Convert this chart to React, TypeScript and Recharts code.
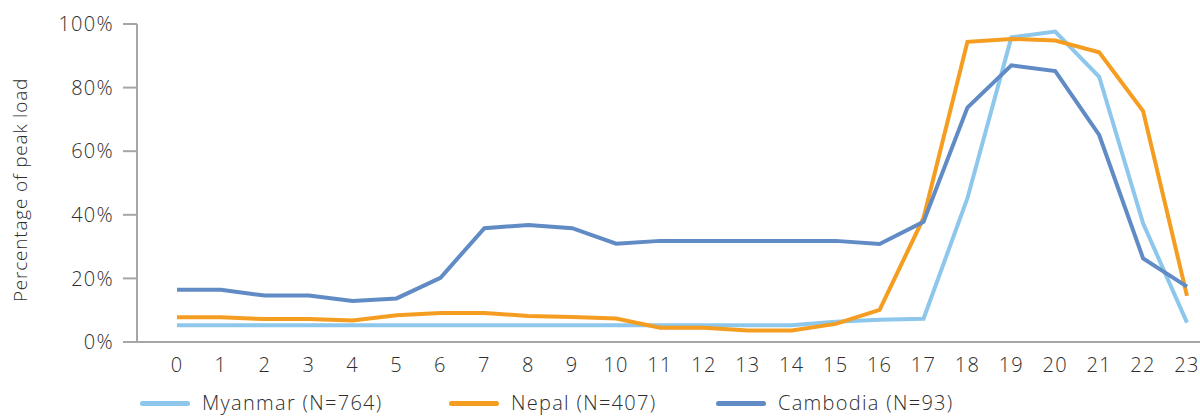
import React from 'react';
import { LineChart, Line, XAxis, YAxis, Legend, Label } from 'recharts';

const hours = ['0', '1', '2', '3', '4', '5', '6', '7', '8', '9', '10', '11', '12', '13', '14', '15', '16', '17', '18', '19', '20', '21', '22', '23'];
const myanmar = [5.3, 5.3, 5.3, 5.3, 5.3, 5.3, 5.3, 5.3, 5.3, 5.3, 5.3, 5.3, 5.3, 5.3, 5.3, 6.4, 7.0, 7.3, 45.2, 95.8, 97.6, 83.4, 37.3, 6.1];
const nepal = [7.8, 7.8, 7.2, 7.2, 6.8, 8.4, 9.1, 9.1, 8.2, 7.9, 7.4, 4.5, 4.5, 3.6, 3.6, 5.7, 10.1, 39, 94.4, 95.3, 94.8, 91.1, 72.6, 14.5];
const cambodia = [16.4, 16.4, 14.6, 14.6, 12.9, 13.7, 20.2, 35.8, 36.8, 35.8, 30.9, 31.8, 31.8, 31.8, 31.8, 31.8, 30.8, 37.8, 73.7, 87.0, 85.2, 65.1, 26.3, 17.4];
const yTicks = [0, 20, 40, 60, 80, 100];

const series = [
    { key: 'myanmar', name: 'Myanmar (N=764)', color: '#8ec7ec' },
    { key: 'nepal', name: 'Nepal (N=407)', color: '#f59d21' },
    { key: 'cambodia', name: 'Cambodia (N=93)', color: '#618bc4' },
];

const data = hours.map((h, i) => ({
    hour: h,
    myanmar: myanmar[i],
    nepal: nepal[i],
    cambodia: cambodia[i],
}));

const FONT = '"Open Sans", Lato, sans-serif';
const TEXT = '#2e2e2e';
const AXIS = '#a6a6a6';

const legendLeft = [140, 449, 716];

const renderLegend = () => (
    <div style={{ position: 'relative', width: 1200, height: 32 }}>
        {series.map((s, i) => (
            <div
                key={s.key}
                style={{
                    position: 'absolute',
                    left: legendLeft[i],
                    top: 6,
                    height: 20,
                    display: 'flex',
                    alignItems: 'center',
                    whiteSpace: 'nowrap',
                }}
            >
                <div style={{ width: 50, height: 5, borderRadius: 3, background: s.color }} />
                <span
                    style={{
                        marginLeft: 12,
                        fontFamily: FONT,
                        fontWeight: 300,
                        fontSize: 20,
                        letterSpacing: 1.3,
                        color: TEXT,
                        lineHeight: '20px',
                    }}
                >
                    {s.name}
                </span>
            </div>
        ))}
    </div>
);

const YTitle = () => (
    <text
        x={20}
        y={190}
        transform="rotate(-90, 20, 190)"
        textAnchor="middle"
        dominantBaseline="central"
        fontFamily={FONT}
        fontWeight={300}
        fontSize={19}
        letterSpacing={0.8}
        fill={TEXT}
    >
        Percentage of peak load
    </text>
);

const tickStyle = { fill: TEXT, fontSize: 20, fontFamily: FONT, fontWeight: 300, letterSpacing: 1.3 };

export default function App() {
    return (
        <div style={{ position: 'absolute', left: 0, top: 0, width: 1200, height: 419, background: '#fff' }}>
            <LineChart width={1200} height={419} data={data} margin={{ top: 24, right: 0, left: 0, bottom: 0 }}>
                <XAxis
                    dataKey="hour"
                    padding={{ left: 40, right: 13 }}
                    tickLine={false}
                    tickSize={0}
                    tickMargin={16}
                    height={45}
                    interval={0}
                    stroke={AXIS}
                    strokeWidth={2}
                    tick={tickStyle}
                />
                <YAxis
                    width={137}
                    domain={[0, 100]}
                    ticks={yTicks}
                    tickFormatter={(v: number) => `${v}%`}
                    tickSize={14}
                    tickMargin={9}
                    stroke={AXIS}
                    strokeWidth={2}
                    tick={tickStyle}
                >
                    <Label content={<YTitle />} />
                </YAxis>
                <Legend
                    verticalAlign="bottom"
                    height={32}
                    content={renderLegend}
                    wrapperStyle={{ left: 0, bottom: 0, width: 1200, height: 32 }}
                />
                {series.map(s => (
                    <Line
                        key={s.key}
                        type="linear"
                        dataKey={s.key}
                        name={s.name}
                        stroke={s.color}
                        strokeWidth={4}
                        dot={false}
                        activeDot={false}
                        isAnimationActive={false}
                    />
                ))}
            </LineChart>
        </div>
    );
}
